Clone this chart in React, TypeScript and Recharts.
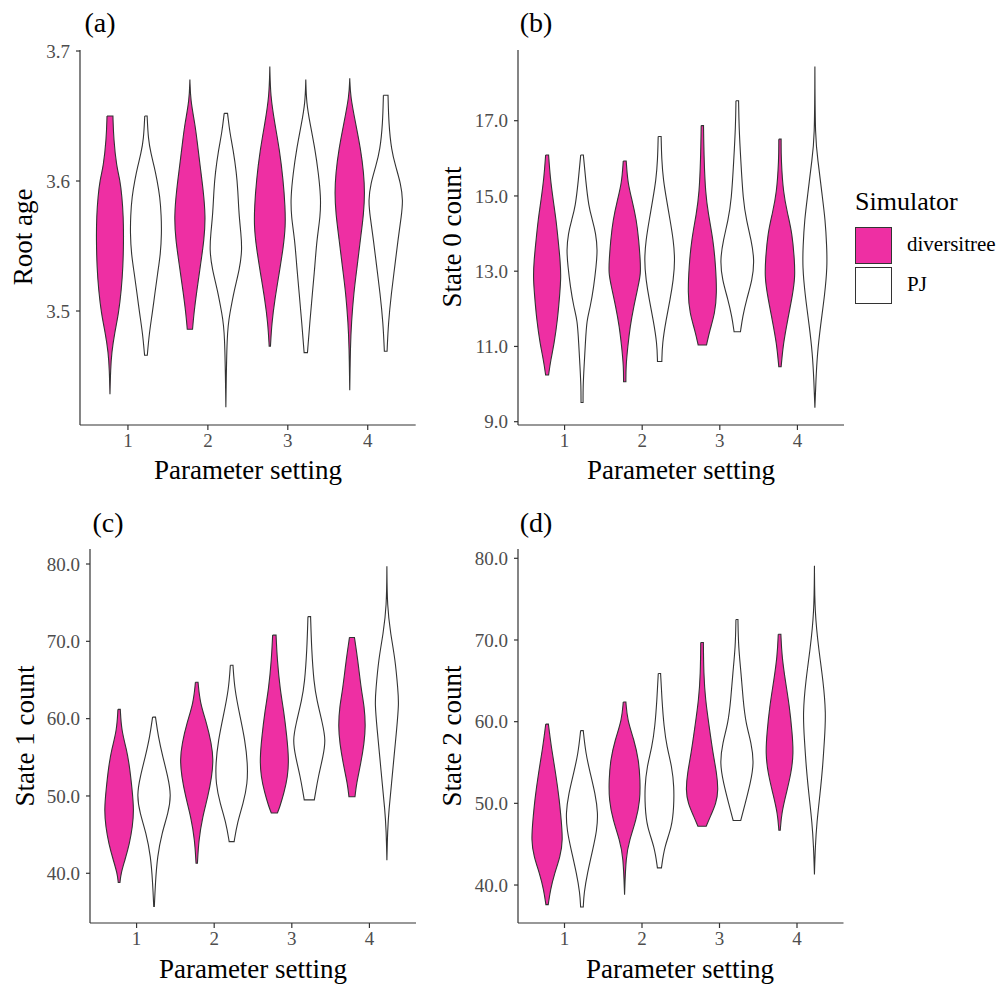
import React from 'react';
import { ScatterChart, Scatter, XAxis, YAxis } from 'recharts';

// categories on the x axis and the two simulators
const settings = [1, 2, 3, 4];
const simulators = ['diversitree', 'PJ'];

// violin outlines: [value, half-width in x units], top to bottom
const rootAgeDiversitree = [
  [[3.650, .037], [3.632, .046], [3.611, .083], [3.601, .125], [3.588, .150], [3.573, .167], [3.555, .171], [3.534, .163], [3.516, .142], [3.498, .108], [3.483, .058], [3.468, .021], [3.455, .008], [3.436, 0]],
  [[3.678, 0], [3.662, .008], [3.644, .063], [3.632, .088], [3.611, .129], [3.593, .167], [3.573, .196], [3.555, .179], [3.534, .129], [3.514, .083], [3.498, .05], [3.486, .033]],
  [[3.688, 0], [3.665, .008], [3.644, .063], [3.624, .121], [3.601, .167], [3.580, .192], [3.565, .196], [3.550, .171], [3.529, .117], [3.509, .063], [3.491, .025], [3.473, .008]],
  [[3.679, 0], [3.665, .008], [3.644, .075], [3.624, .138], [3.606, .175], [3.591, .188], [3.575, .175], [3.555, .133], [3.534, .092], [3.514, .05], [3.491, .021], [3.473, .008], [3.439, 0]],
];
const rootAgePJ = [
  [[3.650, .015], [3.632, .029], [3.621, .063], [3.611, .104], [3.601, .138], [3.588, .175], [3.573, .192], [3.560, .196], [3.544, .183], [3.529, .146], [3.514, .113], [3.498, .079], [3.483, .042], [3.466, .017]],
  [[3.652, .021], [3.637, .05], [3.624, .092], [3.606, .133], [3.593, .15], [3.575, .163], [3.560, .188], [3.547, .204], [3.532, .171], [3.516, .104], [3.498, .05], [3.485, .013], [3.426, 0]],
  [[3.678, 0], [3.660, .008], [3.644, .054], [3.624, .117], [3.606, .158], [3.588, .188], [3.573, .183], [3.555, .138], [3.534, .113], [3.514, .083], [3.491, .05], [3.468, .021]],
  [[3.666, .029], [3.644, .038], [3.624, .071], [3.611, .125], [3.598, .188], [3.585, .217], [3.573, .196], [3.555, .154], [3.534, .113], [3.514, .071], [3.491, .033], [3.469, .017]],
];
const state0Diversitree = [
  [[16.09, .019], [15.51, .039], [14.89, .078], [14.36, .116], [13.83, .142], [13.30, .168], [12.85, .179], [12.41, .164], [11.70, .134], [11.08, .091], [10.64, .047], [10.24, .019]],
  [[15.93, .019], [15.34, .039], [14.89, .095], [14.36, .151], [13.83, .181], [13.30, .2], [12.94, .207], [12.59, .172], [12.06, .116], [11.53, .069], [10.99, .039], [10.46, .015], [10.06, .015]],
  [[16.87, .015], [15.96, .022], [15.07, .041], [14.54, .075], [13.83, .14], [13.12, .172], [12.41, .187], [11.88, .162], [11.44, .097], [11.04, .054]],
  [[16.51, .015], [15.96, .015], [15.07, .043], [14.54, .097], [14.01, .157], [13.30, .187], [12.85, .194], [12.41, .166], [11.70, .099], [11.08, .043], [10.46, .015]],
];
const state0PJ = [
  [[16.09, .017], [15.42, .047], [14.71, .086], [14.36, .134], [14.01, .177], [13.56, .2], [13.12, .181], [12.59, .151], [12.06, .108], [11.70, .06], [11.08, .043], [10.46, .026], [9.93, .013], [9.51, .013]],
  [[16.58, .019], [15.96, .026], [15.42, .047], [14.89, .09], [14.36, .134], [13.83, .177], [13.30, .198], [12.77, .177], [12.24, .134], [11.70, .082], [11.08, .034], [10.60, .028]],
  [[17.53, .017], [16.84, .022], [15.96, .045], [14.89, .075], [14.36, .118], [13.83, .179], [13.30, .222], [12.77, .194], [12.24, .118], [11.79, .069], [11.39, .041]],
  [[18.44, 0], [16.49, .004], [15.96, .039], [15.07, .09], [14.36, .134], [13.65, .153], [13.12, .159], [12.41, .129], [11.53, .071], [10.82, .032], [10.11, .013], [9.37, 0]],
];
const state1Diversitree = [
  [[61.2, .015], [58.5, .03], [56.0, .097], [53.8, .135], [50.8, .168], [48.2, .191], [46.0, .172], [43.9, .135], [41.7, .075], [40.0, .024], [38.8, .011]],
  [[64.7, .017], [62.0, .043], [59.4, .129], [56.8, .189], [54.7, .215], [52.5, .194], [49.9, .144], [47.3, .075], [44.3, .026], [41.3, .009]],
  [[70.8, .022], [67.6, .037], [63.7, .075], [61.1, .12], [57.7, .161], [54.7, .187], [52.5, .172], [50.4, .125], [48.6, .071], [47.8, .039]],
  [[70.5, .032], [67.6, .075], [63.7, .12], [61.6, .159], [59.0, .176], [56.8, .157], [54.2, .114], [51.6, .058], [49.9, .039]],
];
const state1PJ = [
  [[60.2, .019], [57.7, .054], [55.1, .112], [52.5, .178], [50.1, .222], [47.8, .183], [45.2, .101], [42.2, .043], [38.7, .017], [35.7, .004]],
  [[66.9, .017], [63.7, .039], [60.3, .108], [57.2, .172], [54.2, .206], [51.6, .204], [49.1, .151], [46.5, .071], [44.1, .032]],
  [[73.2, .017], [68.9, .03], [64.6, .06], [62.4, .097], [59.4, .17], [57.2, .213], [55.1, .178], [52.5, .116], [50.4, .08], [49.5, .065]],
  [[79.7, 0], [74.5, .004], [71.0, .047], [67.6, .108], [63.7, .142], [62.0, .155], [58.5, .125], [55.1, .092], [51.6, .06], [48.2, .026], [45.6, .009], [41.7, 0]],
];
const state2Diversitree = [
  [[59.7, .017], [56.9, .054], [53.7, .111], [50.4, .159], [48.0, .182], [45.5, .204], [43.5, .171], [41.4, .096], [39.4, .043], [37.6, .015]],
  [[62.4, .017], [60.2, .036], [57.8, .122], [55.3, .182], [52.9, .201], [50.4, .201], [48.0, .15], [45.5, .064], [43.5, .017], [38.8, 0]],
  [[69.7, .017], [65.9, .021], [62.7, .043], [59.4, .092], [56.1, .141], [53.7, .189], [51.6, .21], [50.0, .182], [48.4, .107], [47.2, .054]],
  [[70.7, .017], [68.0, .03], [65.1, .073], [61.8, .129], [58.6, .163], [56.1, .18], [53.7, .15], [51.2, .086], [48.8, .026], [46.7, .009]],
];
const state2PJ = [
  [[58.9, .017], [56.1, .049], [53.7, .107], [51.2, .171], [48.8, .208], [46.7, .193], [44.3, .139], [41.4, .069], [39.0, .026], [37.3, .017]],
  [[65.9, .015], [62.7, .032], [59.4, .058], [56.9, .096], [54.5, .161], [52.0, .189], [49.6, .186], [47.1, .161], [44.7, .064], [42.1, .026]],
  [[72.5, .013], [69.2, .019], [65.9, .054], [62.7, .079], [59.8, .114], [57.4, .186], [54.9, .221], [52.5, .174], [50.0, .107], [47.9, .049]],
  [[79.1, 0], [73.3, .004], [68.8, .056], [65.1, .111], [61.0, .15], [57.8, .129], [54.5, .107], [51.2, .073], [47.6, .03], [44.7, .011], [41.3, 0]],
];

const rootAgeTicks = [3.5, 3.6, 3.7];
const state0Ticks = [9, 11, 13, 15, 17];
const state1Ticks = [40, 50, 60, 70, 80];
const state2Ticks = [40, 50, 60, 70, 80];

const PINK = '#ee2fa3';
const INK = '#333333';
const TICK_GREY = '#4d4d4d';
const FONT = "'Liberation Serif', 'Times New Roman', serif";

// closed outline of one violin: left edge down, right edge up.
// corner points are repeated so the basis curve keeps the trimmed ends sharp
function outline(profile: number[][], center: number) {
  const left = profile.map(([v, w]) => ({ x: center - w, y: v }));
  const right = profile.slice().reverse().map(([v, w]) => ({ x: center + w, y: v }));
  const pin = (side: { x: number; y: number }[]) => {
    const n = side.length;
    return [side[0], side[0], ...side, side[n - 1], side[n - 1]];
  };
  return [...pin(left), ...pin(right), left[0], left[0], left[0]];
}

const noPoint = () => <g />;

interface PanelProps {
  box: [number, number, number, number];
  domain: [number, number];
  ticks: number[];
  div: number[][][];
  pj: number[][][];
}

function Panel({ box, domain, ticks, div, pj }: PanelProps) {
  const [x0, y0, x1, y1] = box;
  const yw = 80, top = 10, right = 10, xh = 44;
  const width = yw + (x1 - x0) + right;
  const height = top + (y1 - y0) + xh;
  return (
    <div style={{ position: 'absolute', left: x0 - yw, top: y0 - top }}>
      <ScatterChart width={width} height={height} margin={{ top, right, bottom: 0, left: 0 }}>
        <XAxis
          type="number" dataKey="x" domain={[0.4, 4.6]} ticks={settings} interval={0}
          allowDataOverflow height={xh} stroke={INK} strokeWidth={1.2}
          tickSize={5} tickMargin={4}
          tick={{ fontSize: 19, fill: TICK_GREY }}
        />
        <YAxis
          type="number" dataKey="y" domain={domain} ticks={ticks} interval={0}
          allowDataOverflow width={yw} stroke={INK} strokeWidth={1.2}
          tickSize={4} tickMargin={6}
          tick={{ fontSize: 19, fill: TICK_GREY }}
          tickFormatter={(v: number) => v.toFixed(1)}
        />
        {settings.map((s, i) => (
          <Scatter
            key={`d${s}`} name={simulators[0]} data={outline(div[i], s - 0.225)}
            fill={PINK} line={{ fill: PINK, stroke: INK, strokeWidth: 1.1 }} lineJointType="basis"
            shape={noPoint} legendType="none" isAnimationActive={false}
          />
        ))}
        {settings.map((s, i) => (
          <Scatter
            key={`p${s}`} name={simulators[1]} data={outline(pj[i], s + 0.225)}
            fill="#ffffff" line={{ fill: '#ffffff', stroke: INK, strokeWidth: 1.1 }} lineJointType="basis"
            shape={noPoint} legendType="none" isAnimationActive={false}
          />
        ))}
      </ScatterChart>
    </div>
  );
}

const abs = (left: number, top: number, size: number, extra: React.CSSProperties = {}): React.CSSProperties => ({
  position: 'absolute', left, top, fontSize: size, lineHeight: 1, whiteSpace: 'nowrap',
  transform: 'translate(-50%, -50%)', color: '#000', ...extra,
});

function YTitle({ x, y, text }: { x: number; y: number; text: string }) {
  return <div style={abs(x, y, 27, { transform: 'translate(-50%, -50%) rotate(-90deg)' })}>{text}</div>;
}

export default function App() {
  return (
    <div style={{ position: 'absolute', left: 0, top: 0, width: 1001, height: 985, background: '#fff', fontFamily: FONT }}>
      <Panel box={[80, 50, 415.7, 425]} domain={[3.41231, 3.70077]} ticks={rootAgeTicks} div={rootAgeDiversitree} pj={rootAgePJ} />
      <Panel box={[518, 50, 844, 425]} domain={[8.912, 18.879]} ticks={state0Ticks} div={state0Diversitree} pj={state0PJ} />
      <Panel box={[90, 549, 416, 923]} domain={[33.57, 81.94]} ticks={state1Ticks} div={state1Diversitree} pj={state1PJ} />
      <Panel box={[517.5, 549, 843, 923]} domain={[35.35, 81.14]} ticks={state2Ticks} div={state2Diversitree} pj={state2PJ} />

      <div style={abs(100, 23, 28)}>(a)</div>
      <div style={abs(536, 23, 28)}>(b)</div>
      <div style={abs(108, 523, 28)}>(c)</div>
      <div style={abs(536, 523, 28)}>(d)</div>

      <YTitle x={23} y={237} text="Root age" />
      <YTitle x={452} y={237} text="State 0 count" />
      <YTitle x={25} y={736} text="State 1 count" />
      <YTitle x={452} y={736} text="State 2 count" />

      <div style={abs(248, 470, 27)}>Parameter setting</div>
      <div style={abs(681, 470, 27)}>Parameter setting</div>
      <div style={abs(253, 969, 27)}>Parameter setting</div>
      <div style={abs(680, 969, 27)}>Parameter setting</div>

      <div style={{ position: 'absolute', left: 855, top: 189, fontSize: 26, lineHeight: 1 }}>Simulator</div>
      {simulators.map((s, i) => (
        <div key={s}>
          <div style={{
            position: 'absolute', left: 855, top: 227 + i * 40, width: 37, height: 37, boxSizing: 'border-box',
            background: i === 0 ? PINK : '#fff', border: `1.5px solid ${INK}`,
          }} />
          <div style={{ position: 'absolute', left: 907, top: 234 + i * 40, fontSize: 21, lineHeight: 1 }}>{s}</div>
        </div>
      ))}
    </div>
  );
}
